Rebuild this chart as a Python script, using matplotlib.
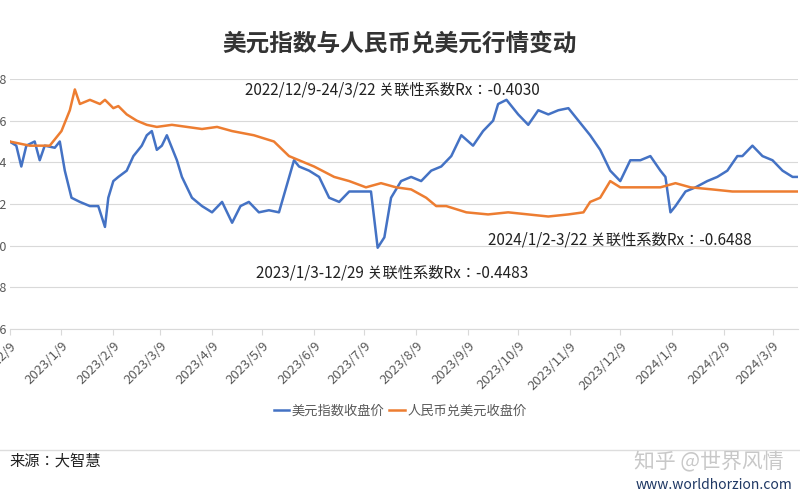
import matplotlib
matplotlib.use("Agg")
import matplotlib.pyplot as plt
from matplotlib import font_manager as fm
import datetime as dt

cjk = sorted(set(f.name for f in fm.fontManager.ttflist if 'CJK' in f.name and 'Sans' in f.name))
fam = 'Noto Sans CJK SC' if 'Noto Sans CJK SC' in cjk else (cjk[0] if cjk else 'DejaVu Sans')
plt.rcParams['font.family'] = [fam, 'DejaVu Sans']

start = dt.date(2022, 12, 9)
# month offsets from 2022/12/9 and values
usd_m = [0.0,0.16,0.24,0.36,0.5,0.6,0.7,0.9,1.0,1.1,1.24,1.4,1.6,1.76,1.88,1.96,2.04,2.16,2.3,2.44,2.6,2.7,2.8,2.9,3.0,3.1,3.2,3.3,3.4,3.5,3.6,3.8,4.0,4.2,4.4,4.56,4.7,4.9,5.1,5.3,5.6,5.7,5.9,6.1,6.3,6.5,6.7,6.9,7.1,7.24,7.36,7.5,7.7,7.9,8.1,8.3,8.5,8.7,8.9,9.1,9.3,9.5,9.6,9.76,10.0,10.2,10.4,10.6,10.8,11.0,11.2,11.4,11.6,11.8,12.0,12.2,12.4,12.6,12.8,12.9,13.0,13.1,13.3,13.5,13.7,13.9,14.1,14.3,14.4,14.6,14.8,15.0,15.2,15.4,15.6,15.7]
usd_v = [1.50,1.48,1.38,1.48,1.50,1.41,1.48,1.47,1.50,1.36,1.23,1.21,1.19,1.19,1.09,1.23,1.31,1.33,1.36,1.43,1.48,1.53,1.55,1.46,1.48,1.53,1.47,1.41,1.33,1.28,1.23,1.19,1.16,1.21,1.11,1.19,1.21,1.16,1.17,1.16,1.41,1.38,1.36,1.33,1.23,1.21,1.26,1.26,1.26,0.99,1.04,1.23,1.31,1.33,1.31,1.36,1.38,1.43,1.53,1.48,1.55,1.60,1.68,1.70,1.63,1.58,1.65,1.63,1.65,1.66,1.60,1.53,1.46,1.36,1.31,1.41,1.41,1.43,1.36,1.33,1.16,1.19,1.26,1.28,1.31,1.33,1.36,1.43,1.43,1.48,1.43,1.41,1.36,1.33,1.33,1.41]
cny_m = [0.0,0.4,0.8,1.04,1.2,1.3,1.4,1.6,1.8,1.9,2.04,2.16,2.3,2.5,2.7,2.9,3.2,3.5,3.8,4.1,4.4,4.8,5.2,5.5,5.7,6.0,6.4,6.7,7.0,7.3,7.6,7.9,8.2,8.4,8.6,9.0,9.4,9.8,10.2,10.6,11.0,11.3,11.4,11.6,11.8,12.0,12.4,12.8,13.1,13.4,13.8,14.2,14.6,15.0,15.4,15.6,15.7]
cny_v = [1.50,1.48,1.48,1.55,1.65,1.75,1.68,1.70,1.68,1.70,1.66,1.67,1.63,1.60,1.58,1.57,1.58,1.57,1.56,1.57,1.55,1.53,1.50,1.43,1.41,1.38,1.33,1.31,1.28,1.30,1.28,1.27,1.23,1.19,1.19,1.16,1.15,1.16,1.15,1.14,1.15,1.16,1.21,1.23,1.31,1.28,1.28,1.28,1.30,1.28,1.27,1.26,1.26,1.26,1.26,1.26,1.21]
xticks = [dt.date(2022 + (11 + i)//12, (11 + i) % 12 + 1, 9) for i in range(16)]
xlabels = [f"{d.year}/{d.month}/9" for d in xticks]
yticks = [0.6, 0.8, 1.0, 1.2, 1.4, 1.6, 1.8]
series = ['美元指数收盘价', '人民币兑美元收盘价']

def todate(m):
    return [start + dt.timedelta(days=x * 30.44) for x in m]

fig = plt.figure(figsize=(8, 5), dpi=100)
ax = fig.add_axes([0.012, 0.342, 0.985, 0.5])
ax.plot(todate(usd_m), usd_v, color='#4472C4', lw=1.8, label=series[0])
ax.plot(todate(cny_m), cny_v, color='#ED7D31', lw=1.8, label=series[1])
ax.set_ylim(0.6, 1.8)
ax.set_yticks(yticks)
ax.set_yticklabels([f"{v:.1f}" for v in yticks], color='#595959', fontsize=9)
ax.set_xlim(start, dt.date(2024, 3, 24))
ax.set_xticks(xticks)
ax.set_xticklabels(xlabels, rotation=45, ha='right', rotation_mode='anchor', color='#595959', fontsize=9.5)
ax.grid(axis='y', color='#D9D9D9', lw=0.8)
for s in ['top', 'right', 'left']:
    ax.spines[s].set_visible(False)
ax.spines['bottom'].set_color('#D9D9D9')
ax.tick_params(axis='y', length=0, pad=2)
ax.tick_params(axis='x', color='#D9D9D9', length=4)

fig.text(0.5, 0.91, '美元指数与人民币兑美元行情变动', ha='center', va='center', fontsize=17, fontweight='bold', color='#333333')
fig.text(0.49, 0.82, '2022/12/9-24/3/22 关联性系数Rx：-0.4030', ha='center', va='center', fontsize=11, color='#222222')
fig.text(0.775, 0.52, '2024/1/2-3/22 关联性系数Rx：-0.6488', ha='center', va='center', fontsize=11, color='#222222')
fig.text(0.49, 0.455, '2023/1/3-12/29 关联性系数Rx：-0.4483', ha='center', va='center', fontsize=11, color='#222222')
fig.legend(loc='center', bbox_to_anchor=(0.5, 0.178), ncol=2, frameon=False, fontsize=9.5,
           handlelength=1.2, columnspacing=0.3, handletextpad=0.2, labelcolor='#595959')
fig.add_artist(plt.Line2D([0, 1], [0.1, 0.1], transform=fig.transFigure, color='#DDDDDD', lw=1))
fig.text(0.012, 0.078, '来源：大智慧', ha='left', va='center', fontsize=11, color='#222222')
fig.text(0.98, 0.075, '知乎 @世界风情', ha='right', va='center', fontsize=15, color='#BBBBBB', alpha=0.8)
fig.text(0.99, 0.03, 'www.worldhorzion.com', ha='right', va='center', fontsize=10, color='#1F3864')
fig.savefig('out.png', dpi=100, facecolor='white')
